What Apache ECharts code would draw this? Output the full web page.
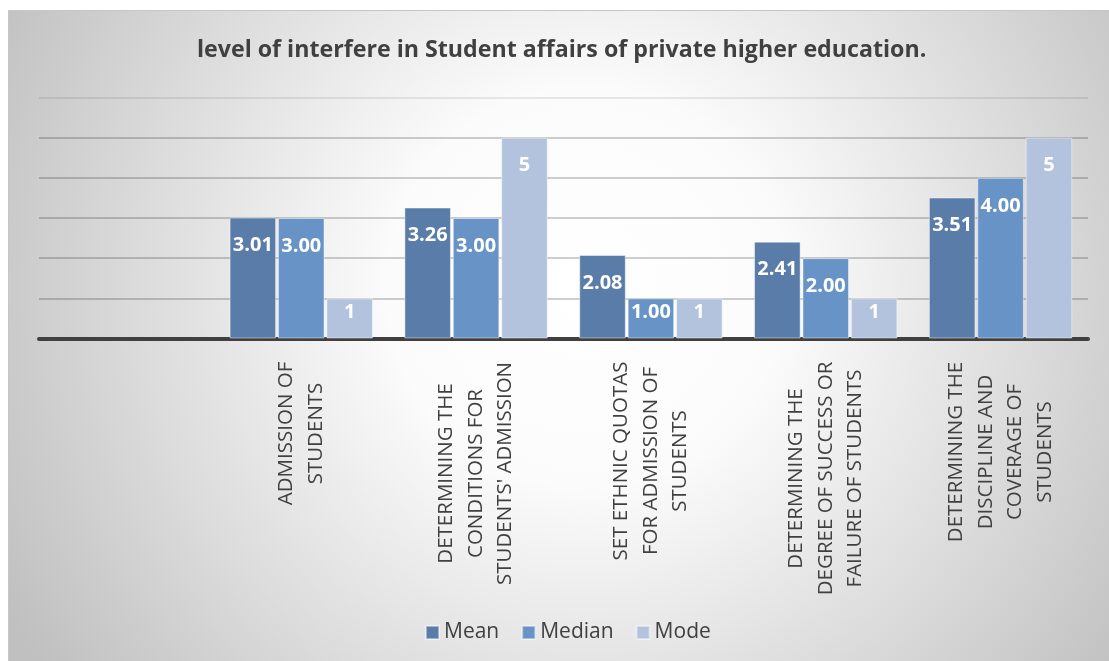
<!DOCTYPE html>
<html>
<head>
<meta charset="utf-8">
<script src="https://cdn.jsdelivr.net/npm/echarts@6/dist/echarts.min.js"></script>
<style>
html,body{margin:0;padding:0;background:#ffffff;}
#chart{width:1109px;height:661px;}
</style>
</head>
<body>
<div id="chart"></div>
<script>
const titleText = 'level of interfere in Student affairs of private higher education.';
const categories = [
  '',
  'ADMISSION OF\nSTUDENTS',
  'DETERMINING THE\nCONDITIONS FOR\nSTUDENTS\' ADMISSION',
  'SET ETHNIC QUOTAS\nFOR ADMISSION OF\nSTUDENTS',
  'DETERMINING THE\nDEGREE OF SUCCESS OR\nFAILURE OF STUDENTS',
  'DETERMINING THE\nDISCIPLINE AND\nCOVERAGE OF\nSTUDENTS'
];
const seriesNames = ['Mean', 'Median', 'Mode'];
const meanValues   = [null, 3.01, 3.26, 2.08, 2.41, 3.51];
const medianValues = [null, 3.00, 3.00, 1.00, 2.00, 4.00];
const modeValues   = [null, 1, 5, 1, 1, 5];
const yTicks = [0, 1, 2, 3, 4, 5, 6];

const FONT = '"Open Sans", "DejaVu Sans", sans-serif';
const catFontSize = 20.5;

// measure widest line of each category label so lines can be centered
const cvs = document.createElement('canvas').getContext('2d');
cvs.font = catFontSize + 'px "Open Sans"';
const rich = {};
categories.forEach((c, i) => {
  const w = Math.max(1, ...c.split('\n').map(l => cvs.measureText(l).width));
  rich['c' + i] = {
    width: Math.ceil(w) + 2,
    align: 'center',
    fontSize: catFontSize,
    lineHeight: 29.5,
    color: '#404040',
    fontFamily: FONT
  };
});

function mkData(arr) {
  return arr.map(v => v === null ? null : (v <= 1 ? {value: v, label: {distance: 4}} : {value: v}));
}

const colors = ['#5a7ca8', '#6793c7', '#b3c3de'];
const fmts = [
  p => p.value.toFixed(2),
  p => p.value.toFixed(2),
  p => String(Math.round(p.value))
];
const valueSets = [meanValues, medianValues, modeValues];

const chart = echarts.init(document.getElementById('chart'), null, {renderer: 'canvas'});
chart.setOption({
  animation: false,
  graphic: [{
    type: 'rect',
    z: -100,
    silent: true,
    shape: {x: 8.5, y: 10.5, width: 1110, height: 660},
    style: {
      fill: new echarts.graphic.RadialGradient(0.52, 0.42, 1.0, [
        {offset: 0, color: '#ffffff'},
        {offset: 0.3, color: '#fbfbfb'},
        {offset: 1, color: '#c0c0c0'}
      ]),
      stroke: '#c6c6c6',
      lineWidth: 1
    }
  }],
  title: {
    text: titleText,
    left: 197,
    top: 39,
    padding: 0,
    textStyle: {fontFamily: FONT, fontSize: 23.2, fontWeight: 'bold', color: '#404040'}
  },
  legend: {
    data: seriesNames,
    left: 420,
    top: 617,
    icon: 'rect',
    itemWidth: 13,
    itemHeight: 13,
    itemGap: 22,
    textStyle: {fontFamily: FONT, fontSize: 21, color: '#404040'}
  },
  grid: {left: 39, right: 21, top: 97.5, bottom: 322.5, containLabel: false},
  xAxis: {
    type: 'category',
    data: categories,
    axisLine: {show: true, lineStyle: {color: '#404040', width: 4}},
    axisTick: {show: false},
    axisLabel: {
      interval: 0,
      rotate: 90,
      margin: 22,
      formatter: (v, i) => v === '' ? '' : v.split('\n').map(l => '{c' + i + '|' + l + '}').join('\n'),
      rich: rich
    }
  },
  yAxis: {
    type: 'value',
    min: yTicks[0],
    max: yTicks[yTicks.length - 1],
    interval: 1,
    axisLabel: {show: false},
    axisLine: {show: false},
    axisTick: {show: false},
    splitLine: {
      show: true,
      lineStyle: {
        color: ['rgba(0,0,0,0.19)', 'rgba(0,0,0,0.19)', 'rgba(0,0,0,0.19)', 'rgba(0,0,0,0.19)', 'rgba(0,0,0,0.19)', 'rgba(0,0,0,0.19)', 'rgba(0,0,0,0.08)'],
        width: 2
      }
    }
  },
  series: seriesNames.map((name, k) => ({
    name: name,
    type: 'bar',
    data: mkData(valueSets[k]),
    barCategoryGap: '18%',
    barGap: '4%',
    itemStyle: {color: colors[k], borderColor: 'rgba(255,255,255,0.45)', borderWidth: 1},
    label: {
      show: true,
      position: 'insideTop',
      distance: 18,
      formatter: fmts[k],
      fontFamily: FONT,
      fontSize: 20,
      fontWeight: 'bold',
      color: '#ffffff'
    }
  }))
});
</script>
</body>
</html>
